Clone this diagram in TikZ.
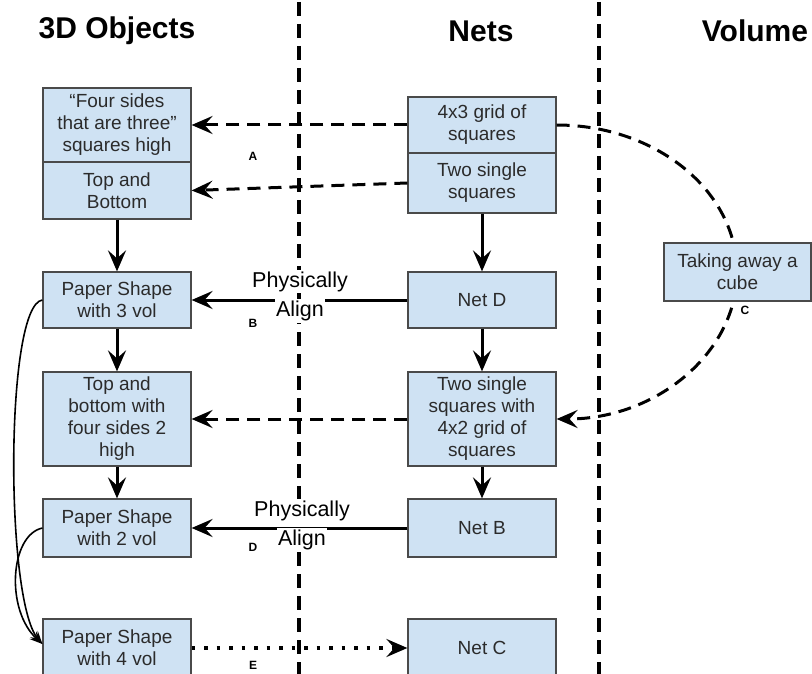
\documentclass[tikz,border=0pt]{standalone}
\usepackage{fontspec}
\setmainfont{Liberation Sans}
\usetikzlibrary{arrows.meta}
\definecolor{boxfill}{HTML}{CFE2F3}
\definecolor{boxline}{HTML}{4A4A4A}
\definecolor{boxtext}{HTML}{2B2B2B}
\begin{document}
\begin{tikzpicture}[x=1pt,y=-1pt,
  box/.style={draw=boxline, line width=1.2pt, fill=boxfill, text=boxtext, align=center,
    minimum width=148pt, inner sep=0pt, font=\fontsize{19}{22}\selectfont},
  hdr/.style={font=\bfseries\fontsize{30}{34}\selectfont},
  tag/.style={font=\bfseries\fontsize{12}{14}\selectfont},
  phys/.style={fill=white, inner sep=1.5pt, font=\fontsize{21.5}{24}\selectfont},
  headtip/.style={-{Stealth[length=21pt,width=18pt,inset=8pt]}},
  solidc/.style={headtip, line width=3pt},
  dashc/.style={headtip, line width=3pt, dash pattern=on 13pt off 8pt},
  dotc/.style={headtip, line width=3.5pt, dash pattern=on 3.5pt off 9pt},
  divider/.style={line width=3.2pt, dash pattern=on 14pt off 8pt},
  thinc/.style={-{Stealth[length=13pt,width=10pt,inset=5pt]}, line width=1.6pt}]
\useasboundingbox (0,0) rectangle (812,674);

% dividers
\coordinate (d1t) at (299,2);
\coordinate (d1b) at (299,674);
\coordinate (d2t) at (599,2);
\coordinate (d2b) at (599,674);
\draw[divider] (d1t) -- (d1b);
\draw[divider] (d2t) -- (d2b);

% headers
\node[hdr] (h1) at (117,31) {3D Objects};
\node[hdr] (h2) at (481,31) {Nets};
\node[hdr] (h3) at (755,31) {Volume};

% left column
\node[box, minimum height=74pt] (b1) at (117,125) {“Four sides\\that are three”\\squares high};
\node[box, minimum height=57pt] (b2) at (117,190.5) {Top and\\Bottom};
\node[box, minimum height=56pt] (b3) at (117,300) {Paper Shape\\with 3 vol};
\node[box, minimum height=94pt] (b4) at (117,419) {Top and\\bottom with\\four sides 2\\high};
\node[box, minimum height=58pt] (b5) at (117,528) {Paper Shape\\with 2 vol};
\node[box, minimum height=58pt] (b6) at (117,648) {Paper Shape\\with 4 vol};

% middle column
\node[box, minimum height=56pt] (n1) at (482,125) {4x3 grid of\\squares};
\node[box, minimum height=60pt] (n2) at (482,183) {Two single\\squares};
\node[box, minimum height=56pt] (n3) at (482,300) {Net D};
\node[box, minimum height=94pt] (n4) at (482,419) {Two single\\squares with\\4x2 grid of\\squares};
\node[box, minimum height=58pt] (n5) at (482,528) {Net B};
\node[box, minimum height=58pt] (n6) at (482,648) {Net C};

% volume curve (behind right box)
\draw[dashc] (n1.east) .. controls (656,125) and (737,191) .. (737,272)
  .. controls (737,353) and (656,419) .. (n4.east);
\node[box, minimum width=147pt, minimum height=58pt] (v1) at (737.5,272) {Taking away a\\cube};

% connectors
\draw[dashc] (n1.west) -- (b1.east);
\draw[dashc] (n2.west) -- (b2.east);
\draw[solidc] (b2.south) -- (b3.north);
\draw[solidc] (n2.south) -- (n3.north);
\draw[solidc] (n3.west) -- (b3.east);
\draw[solidc] (b3.south) -- (b4.north);
\draw[solidc] (n3.south) -- (n4.north);
\draw[dashc] (n4.west) -- (b4.east);
\draw[solidc] (b4.south) -- (b5.north);
\draw[solidc] (n4.south) -- (n5.north);
\draw[solidc] (n5.west) -- (b5.east);
\draw[dotc] (b6.east) -- (n6.west);
\draw[thinc] (b3.west) .. controls (5,305) and (5,600) .. ([yshift=4pt]b6.west);
\draw[thinc] (b5.west) .. controls (10,535) and (5,610) .. ([yshift=4pt]b6.west);

% labels
\node[phys] (p1) at (300,281.5) {Physically};
\node[phys] (a1) at (300,311) {Align};
\node[phys] (p2) at (302,511) {Physically};
\node[phys] (a2) at (302,540) {Align};
\node[tag] (ta) at (253,156) {A};
\node[tag] (tb) at (253,323) {B};
\node[tag] (tc) at (745,310) {C};
\node[tag] (td) at (253,547) {D};
\node[tag] (te) at (253,665) {E};
\end{tikzpicture}
\end{document}
